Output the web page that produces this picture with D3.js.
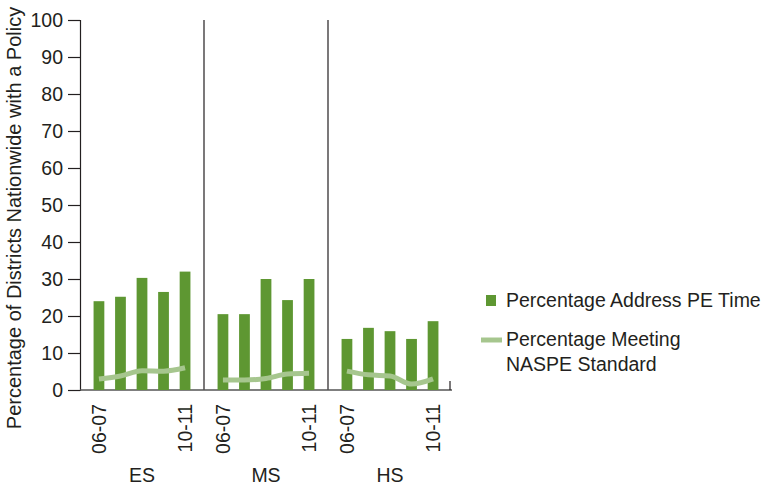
<!DOCTYPE html>
<html><head><meta charset="utf-8">
<script src="https://cdn.jsdelivr.net/npm/d3@7"></script>
<style>body{margin:0;background:#fff}text{font-family:"Liberation Sans",Arial,sans-serif;fill:#231f20}</style>
</head><body><svg id="c" width="779" height="485"></svg>
<script>
const groups = ["ES","MS","HS"];
const years = ["06-07","07-08","08-09","09-10","10-11"];
const yearLabels = ["06-07","","","","10-11"];
const addressPE = {ES:[24,25.2,30.3,26.5,32], MS:[20.5,20.5,30,24.3,30], HS:[13.8,16.8,15.9,13.8,18.6]};
const meetingNASPE = {ES:[3,3.8,5.2,5.1,6], MS:[2.7,2.7,3.1,4.3,4.5], HS:[5.1,4.1,3.8,1.6,3]};
const yTicks = [0,10,20,30,40,50,60,70,80,90,100];
const legendLabels = ["Percentage Address PE Time", ["Percentage Meeting","NASPE Standard"]];

const barColor = "#5e9732", lineColor = "#a6c68e";
const FS = 19.5;
const svg = d3.select("#c");
const x0 = 80, x1 = 452, yTop = 20, yBot = 390;
const y = d3.scaleLinear().domain([0,100]).range([yBot,yTop]);
const gx = d3.scaleBand().domain(groups).range([x0,x1]).padding(0);
const bx = d3.scaleBand().domain(years).range([0,gx.bandwidth()]).paddingInner(0.5).paddingOuter(0.63);

// y axis
const ya = svg.append("g").attr("transform",`translate(${x0},0)`)
  .call(d3.axisLeft(y).tickValues(yTicks).tickSize(12).tickPadding(5));
ya.select(".domain").attr("stroke","#231f20").attr("stroke-width",1.2);
ya.selectAll(".tick line").attr("stroke","#231f20").attr("stroke-width",1.2);
ya.selectAll("text").attr("font-size",FS).style("font-family","Liberation Sans, Arial");

// dividers
groups.slice(1).forEach(g=>{
  svg.append("line").attr("x1",gx(g)).attr("x2",gx(g)).attr("y1",yTop).attr("y2",yBot)
    .attr("stroke","#231f20").attr("stroke-width",1.2);
});

// x axis line
svg.append("line").attr("x1",x0).attr("x2",x1).attr("y1",yBot).attr("y2",yBot).attr("stroke","#555").attr("stroke-width",1.5);
svg.append("line").attr("x1",x1-2).attr("x2",x1-2).attr("y1",yBot-9).attr("y2",yBot).attr("stroke","#231f20").attr("stroke-width",1.2);

const line = d3.line().x((d,i)=>bx(years[i])+bx.bandwidth()/2).y(d=>y(d)).curve(d3.curveMonotoneX);

groups.forEach(g=>{
  const gg = svg.append("g").attr("transform",`translate(${gx(g)},0)`);
  gg.selectAll("rect").data(addressPE[g]).join("rect")
    .attr("x",(d,i)=>bx(years[i])).attr("width",bx.bandwidth())
    .attr("y",d=>y(d)).attr("height",d=>y(0)-y(d)).attr("fill",barColor);
  gg.append("path").datum(meetingNASPE[g]).attr("d",line)
    .attr("fill","none").attr("stroke",lineColor).attr("stroke-width",5);
  yearLabels.forEach((t,i)=>{
    if(!t) return;
    const cx = bx(years[i])+bx.bandwidth()/2;
    gg.append("text").attr("transform",`translate(${cx+7},404) rotate(-90)`)
      .attr("text-anchor","end").attr("font-size",FS).text(t);
  });
  gg.append("text").attr("x",gx.bandwidth()/2).attr("y",482).attr("text-anchor","middle").attr("font-size",FS).text(g);
});

// y title
svg.append("text").attr("transform","translate(21,218) rotate(-90)").attr("text-anchor","middle")
  .attr("font-size",20).text("Percentage of Districts Nationwide with a Policy");

// legend
svg.append("rect").attr("x",486).attr("y",295).attr("width",10).attr("height",11).attr("fill",barColor);
svg.append("text").attr("x",506).attr("y",307).attr("font-size",FS).text(legendLabels[0]);
svg.append("line").attr("x1",481).attr("x2",502).attr("y1",340).attr("y2",340).attr("stroke",lineColor).attr("stroke-width",5);
legendLabels[1].forEach((t,i)=>svg.append("text").attr("x",506).attr("y",346+i*25).attr("font-size",FS).text(t));
</script></body></html>
